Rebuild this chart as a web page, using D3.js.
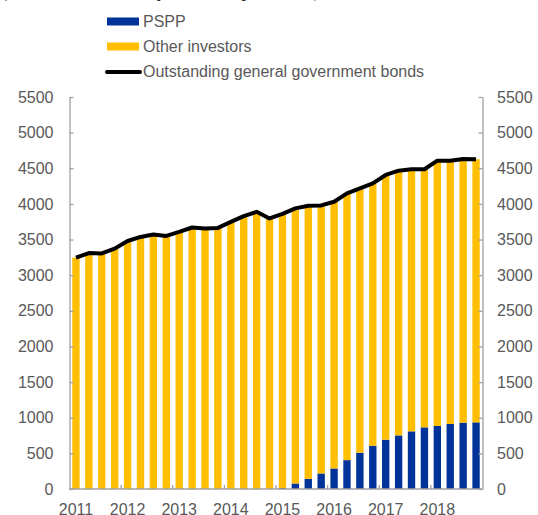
<!DOCTYPE html>
<html>
<head>
<meta charset="utf-8">
<script src="https://cdn.jsdelivr.net/npm/d3@7"></script>
<style>
  html, body { margin: 0; padding: 0; background: #fff; }
  svg { display: block; }
</style>
</head>
<body>
<svg id="chart" width="538" height="515"></svg>
<script>
const quarters = [
  "2011Q1","2011Q2","2011Q3","2011Q4",
  "2012Q1","2012Q2","2012Q3","2012Q4",
  "2013Q1","2013Q2","2013Q3","2013Q4",
  "2014Q1","2014Q2","2014Q3","2014Q4",
  "2015Q1","2015Q2","2015Q3","2015Q4",
  "2016Q1","2016Q2","2016Q3","2016Q4",
  "2017Q1","2017Q2","2017Q3","2017Q4",
  "2018Q1","2018Q2","2018Q3","2018Q4"
];
const outstanding = [
  3246, 3311, 3305, 3373,
  3480, 3537, 3570, 3551,
  3607, 3669, 3655, 3663,
  3748, 3828, 3889, 3796,
  3860, 3937, 3974, 3979,
  4030, 4147, 4218, 4289,
  4406, 4466, 4486, 4486,
  4607, 4607, 4631, 4626
];
const pspp = [
  0, 0, 0, 0,
  0, 0, 0, 0,
  0, 0, 0, 0,
  0, 0, 0, 0,
  12, 77, 143, 218,
  288, 405, 509, 607,
  692, 752, 809, 865,
  884, 912, 931, 935
];
const otherInvestors = outstanding.map((v, i) => v - pspp[i]);
const yTicks = [0, 500, 1000, 1500, 2000, 2500, 3000, 3500, 4000, 4500, 5000, 5500];
const yearLabels = ["2011","2012","2013","2014","2015","2016","2017","2018"];
const legendLabels = ["PSPP", "Other investors", "Outstanding general government bonds"];
const subtitle = "(EUR billions held by sector at par value)";

(function () {
const colBlue = "#003399", colYellow = "#ffbf00", textCol = "#595959", axisCol = "#a0a0a0";
const svg = d3.select("#chart");
const pLeft = 69.5, pRight = 482.5, pTop = 97, pBottom = 489;

const x = d3.scaleBand().domain(quarters).range([pLeft, pRight]).paddingInner(0.43).paddingOuter(0.215);
const y = d3.scaleLinear().domain([0, 5500]).range([pBottom, pTop]);

// subtitle cut off at top, as in the reference
svg.append("text").attr("x", 2).attr("y", -3)
  .attr("font-family", "'Liberation Serif', 'Times New Roman', serif")
  .attr("font-style", "italic").attr("font-size", 19).attr("fill", "#222")
  .text(subtitle);

// bars
const g = svg.append("g");
g.selectAll("rect.pspp").data(quarters).join("rect").attr("class", "pspp")
  .attr("x", d => x(d)).attr("width", x.bandwidth())
  .attr("y", (d, i) => y(pspp[i])).attr("height", (d, i) => y(0) - y(pspp[i]))
  .attr("fill", colBlue);
g.selectAll("rect.other").data(quarters).join("rect").attr("class", "other")
  .attr("x", d => x(d)).attr("width", x.bandwidth())
  .attr("y", (d, i) => y(pspp[i] + otherInvestors[i]))
  .attr("height", (d, i) => y(pspp[i]) - y(pspp[i] + otherInvestors[i]))
  .attr("fill", colYellow);

// axes
const fmt = d3.format("d");
const axL = d3.axisLeft(y).tickValues(yTicks).tickFormat(fmt).tickSizeInner(-4).tickSizeOuter(0).tickPadding(16);
const axR = d3.axisRight(y).tickValues(yTicks).tickFormat(fmt).tickSizeInner(-4).tickSizeOuter(0).tickPadding(14.5);
function style(sel) {
  sel.selectAll("path, line").attr("stroke", axisCol).attr("stroke-width", 1.3);
  sel.selectAll("text").attr("fill", textCol).attr("font-size", 16)
     .attr("font-family", "'Liberation Sans', Arial, sans-serif");
}
svg.append("g").attr("transform", `translate(${pLeft},0)`).call(axL).call(style);
svg.append("g").attr("transform", `translate(${pRight},0)`).call(axR).call(style);

// bottom axis: baseline, year boundary ticks, labels on Q1 bars
const xb = svg.append("g");
xb.append("line").attr("x1", pLeft).attr("x2", pRight).attr("y1", pBottom).attr("y2", pBottom)
  .attr("stroke", axisCol).attr("stroke-width", 1.3);
const step = x.step();
yearLabels.forEach((yr, k) => {
  const q1 = x(yr + "Q1");
  if (k > 0) {
    const bx = q1 - (step - x.bandwidth()) / 2;
    xb.append("line").attr("x1", bx).attr("x2", bx).attr("y1", pBottom).attr("y2", pBottom - 4)
      .attr("stroke", axisCol).attr("stroke-width", 1.3);
  }
  xb.append("text").attr("x", q1 + x.bandwidth() / 2).attr("y", 515)
    .attr("text-anchor", "middle").attr("fill", textCol).attr("font-size", 16)
    .attr("font-family", "'Liberation Sans', Arial, sans-serif").text(yr);
});

// line
const line = d3.line().x((d, i) => x(quarters[i]) + x.bandwidth() / 2).y(d => y(d));
svg.append("path").datum(outstanding).attr("d", line)
  .attr("fill", "none").attr("stroke", "#000").attr("stroke-width", 4)
  .attr("stroke-linejoin", "round");

// legend
const lg = svg.append("g").attr("font-family", "'Liberation Sans', Arial, sans-serif")
  .attr("font-size", 16).attr("fill", textCol);
const lx = 107, baseY = [27, 52, 77];
lg.append("rect").attr("x", lx).attr("y", 17.5).attr("width", 32).attr("height", 8).attr("fill", colBlue);
lg.append("rect").attr("x", lx).attr("y", 42.5).attr("width", 32).attr("height", 8).attr("fill", colYellow);
lg.append("line").attr("x1", lx).attr("x2", lx + 33).attr("y1", 72).attr("y2", 72)
  .attr("stroke", "#000").attr("stroke-width", 4).attr("stroke-linecap", "round");
legendLabels.forEach((t, i) => {
  lg.append("text").attr("x", 143).attr("y", baseY[i]).text(t);
});
})();
</script>
</body>
</html>
